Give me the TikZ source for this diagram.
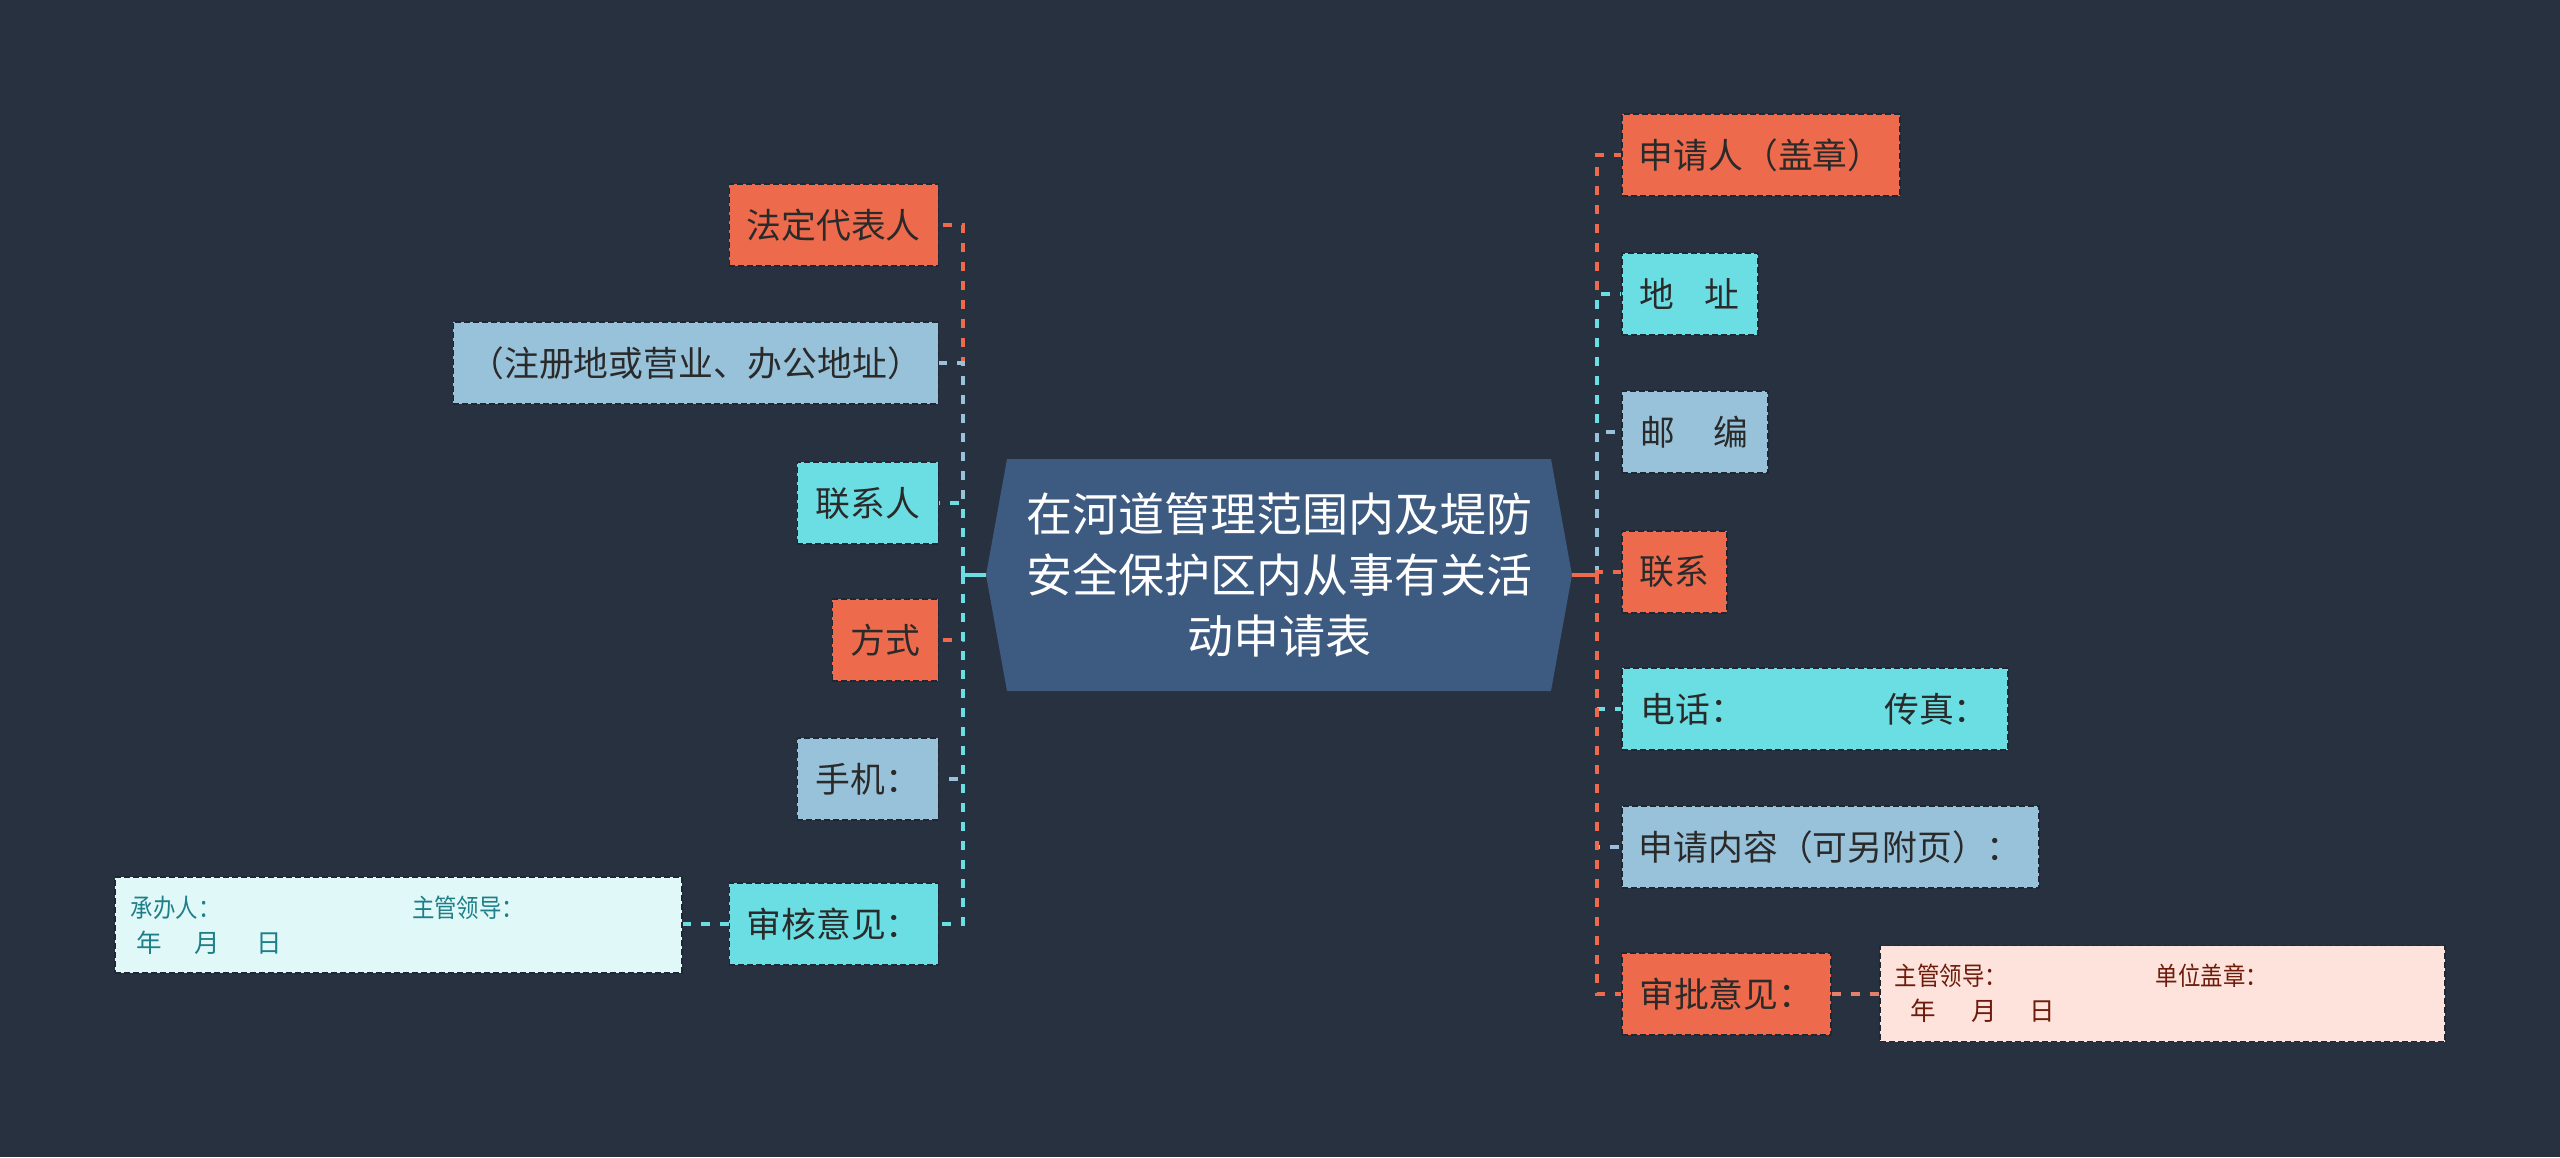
\documentclass[tikz,border=0pt]{standalone}
\usepackage{fontspec}
\setmainfont{Noto Sans CJK SC}
\newfontfamily\condfont[FakeStretch=0.88]{Noto Sans CJK SC}
\definecolor{bg}{HTML}{283140}
\definecolor{rootfill}{HTML}{3D5A80}
\definecolor{cor}{HTML}{EE6A4C}
\definecolor{ccy}{HTML}{6BDEE3}
\definecolor{clb}{HTML}{98C2DA}
\definecolor{txt}{HTML}{2A2A2A}
\definecolor{boxline}{HTML}{1F2734}
\definecolor{lcyfill}{HTML}{E0F8F8}
\definecolor{lcytxt}{HTML}{1E7F88}
\definecolor{lpkfill}{HTML}{FDE3DB}
\definecolor{lpktxt}{HTML}{6E1B0C}
\definecolor{salmon}{HTML}{E5806A}
\begin{document}
\begin{tikzpicture}[x=1pt,y=-1pt,
  box/.style={draw=boxline,dash pattern=on 6pt off 3pt,line width=1.5pt,minimum height=82pt,inner sep=0pt,text=txt,font=\fontsize{34.8pt}{40pt}\selectfont},
  detail/.style={draw=boxline,dash pattern=on 6pt off 3pt,line width=1.5pt,minimum height=96pt,inner ysep=0pt,align=left,font=\fontsize{25.5pt}{35pt}\selectfont},
  edge/.style={line width=3.5pt,dash pattern=on 9pt off 10pt},
  stub/.style={line width=3.5pt},
  rootnode/.style={minimum width=586pt,minimum height=232pt,inner sep=0pt,text=white,align=center,font=\fontsize{46pt}{61pt}\selectfont}]
\fill[bg] (0,0) rectangle (2560,1157);
\useasboundingbox (0,0) rectangle (2560,1157);
% root
\fill[rootfill] (1007,459) -- (1551,459) -- (1572,575) -- (1551,691) -- (1007,691) -- (986,575) -- cycle;
\node[rootnode] (root) at (1279,575) {在河道管理范围内及堤防\\安全保护区内从事有关活\\动申请表};
\coordinate (lbus) at (963,575);
\coordinate (rbus) at (1597,575);
% left nodes
\node[box,fill=cor,anchor=east,minimum width=209pt] (fd) at (939,225) {法定代表人};
\node[box,fill=clb,anchor=east,minimum width=485pt] (zc) at (939,363) {（注册地或营业、办公地址）};
\node[box,fill=ccy,anchor=east,minimum width=141pt] (lxr) at (939,503) {联系人};
\node[box,fill=cor,anchor=east,minimum width=106pt] (fs) at (939,640) {方式};
\node[box,fill=clb,anchor=east,minimum width=141pt] (sj) at (939,779) {手机：};
\node[box,fill=ccy,anchor=east,minimum width=209pt] (sh) at (939,924) {审核意见：};
\node[detail,fill=lcyfill,text=lcytxt,anchor=west,text width=535pt,inner xsep=16pt] (shd) at (114,925)
  {{\condfont 承办人：\hspace{191.5pt}主管领导：}\\\hspace*{6pt}年\hspace{32.5pt}月\hspace{36pt}日};
% right nodes
\node[box,fill=cor,anchor=west,minimum width=278pt] (sqr) at (1621,155) {申请人（盖章）};
\node[box,fill=ccy,anchor=west,minimum width=136pt] (dz) at (1621,294) {地\hspace{30pt}址};
\node[box,fill=clb,anchor=west,minimum width=146pt] (yb) at (1621,432) {邮\hspace{38pt}编};
\node[box,fill=cor,anchor=west,minimum width=105pt] (lx) at (1621,572) {联系};
\node[box,fill=ccy,anchor=west,minimum width=386pt] (dh) at (1621,709) {电话：\hspace{139pt}传真：};
\node[box,fill=clb,anchor=west,minimum width=417pt] (sqnr) at (1621,847) {申请内容（可另附页）：};
\node[box,fill=cor,anchor=west,minimum width=209pt] (sp) at (1621,994) {审批意见：};
\node[detail,fill=lpkfill,text=lpktxt,anchor=west,text width=535pt,inner xsep=15pt] (spd) at (1879,993.5)
  {{\condfont 主管领导：\hspace{148.8pt}单位盖章：}\\\hspace*{16pt}年\hspace{35.5pt}月\hspace{32.5pt}日};
% left edges
\draw[edge,cor] (lbus) |- (fd.east);
\draw[edge,clb] (lbus) |- (zc.east);
\draw[edge,ccy] (lbus) |- (lxr.east);
\draw[edge,cor] (lbus) |- (fs.east);
\draw[edge,clb] (lbus) |- (sj.east);
\draw[edge,ccy] (lbus) |- (sh.east);
\draw[stub,ccy] (root.west) -- (lbus);
\draw[edge,ccy] (sh.west) -- (sh.west -| shd.east);
% right edges
\draw[edge,cor] (rbus) |- (sqr.west);
\draw[edge,ccy] (rbus) |- (dz.west);
\draw[edge,clb] (rbus) |- (yb.west);
\draw[edge,cor] (rbus) |- (lx.west);
\draw[edge,ccy] (rbus) |- (dh.west);
\draw[edge,clb] (rbus) |- (sqnr.west);
\draw[edge,cor] (rbus) |- (sp.west);
\draw[stub,cor] (root.east) -- (rbus);
\draw[edge,salmon] (sp.east) -- (sp.east -| spd.west);
\end{tikzpicture}
\end{document}
